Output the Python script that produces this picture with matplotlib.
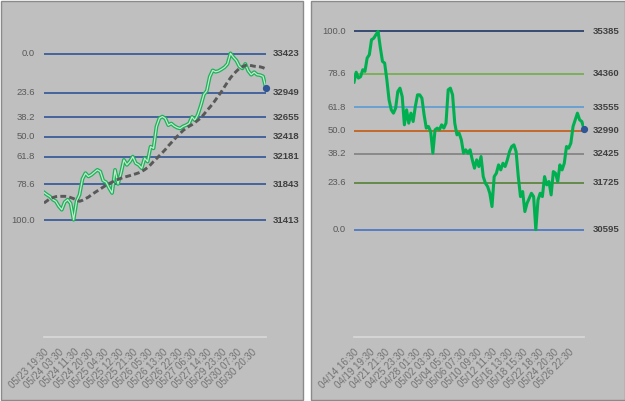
import matplotlib
matplotlib.use('Agg')
import matplotlib.pyplot as plt
from matplotlib.patches import Rectangle

plt.rcParams['font.family'] = ['Liberation Sans', 'DejaVu Sans']

W, H = 625, 401

# ---------------- data ----------------
left_levels = [0.0, 23.6, 38.2, 50.0, 61.8, 78.6, 100.0]
left_level_prices = [33423, 32949, 32655, 32418, 32181, 31843, 31413]
left_tick_labels = ['05/23 19:30', '05/24 03:30', '05/24 11:30', '05/24 20:30',
                    '05/25 04:30', '05/25 12:30', '05/25 21:30', '05/26 05:30',
                    '05/26 13:30', '05/26 22:30', '05/27 06:30', '05/27 14:30',
                    '05/29 23:30', '05/30 07:30', '05/30 20:30']
left_price = [31747, 31720, 31698, 31660, 31640, 31580, 31538, 31630, 31660, 31614,
              31417, 31640, 31720, 31910, 31980, 31940, 31960, 31990, 32020, 32000,
              31890, 31870, 31800, 31740, 32020, 31850, 31980, 32140, 32080, 32120,
              32180, 32100, 32080, 32040, 32160, 32120, 32300, 32280, 32543, 32644,
              32664, 32640, 32560, 32580, 32550, 32530, 32520, 32545, 32560, 32580,
              32660, 32620, 32690, 32800, 32930, 32975, 33145, 33222, 33205, 33215,
              33236, 33260, 33300, 33428, 33380, 33340, 33270, 33246, 33300, 33215,
              33170, 33200, 33170, 33165, 33150, 33005]
left_ma = [31619, 31645, 31670, 31685, 31696, 31700, 31700, 31700, 31698, 31685,
           31672, 31655, 31640, 31652, 31672, 31690, 31718, 31742, 31765, 31788,
           31812, 31835, 31854, 31872, 31890, 31905, 31918, 31930, 31940, 31950,
           31962, 31972, 31984, 32000, 32022, 32048, 32082, 32120, 32155, 32192,
           32228, 32266, 32310, 32348, 32388, 32425, 32460, 32496, 32522, 32546,
           32566, 32592, 32620, 32648, 32690, 32735, 32775, 32818, 32868, 32918,
           32968, 33025, 33080, 33132, 33175, 33212, 33245, 33265, 33282, 33286,
           33280, 33272, 33268, 33265, 33255, 33238]

right_levels = [100.0, 78.6, 61.8, 50.0, 38.2, 23.6, 0.0]
right_level_prices = [35385, 34360, 33555, 32990, 32425, 31725, 30595]
right_level_colors = ['#203864', '#70ad47', '#5b9bd5', '#c55a11', '#808080', '#548235', '#4472c4']
right_tick_labels = ['04/14 16:30', '04/19 19:30', '04/21 21:30', '04/25 23:30',
                     '04/28 01:30', '05/02 03:30', '05/04 05:30', '05/06 07:30',
                     '05/10 09:30', '05/12 11:30', '05/16 13:30', '05/18 15:30',
                     '05/22 18:30', '05/24 20:30', '05/26 22:30']
right_price = [34160, 34400, 34258, 34290, 34459, 34420, 34742, 34822, 35184, 35220,
               35305, 35385, 35000, 34660, 34620, 34217, 33733, 33491, 33410, 33530,
               33934, 34015, 33813, 33128, 33491, 33168, 33410, 33208, 33571, 33853,
               33853, 33773, 33370, 33048, 33088, 32967, 32443, 33008, 33048, 33008,
               33128, 33048, 33168, 33975, 34015, 33853, 33168, 32886, 32927, 32765,
               32443, 32524, 32443, 32524, 32281, 32080, 32281, 32120, 32362, 31877,
               31716, 31636, 31474, 31152, 31877, 31958, 32160, 32039, 32200, 32120,
               32281, 32483, 32604, 32644, 32483, 31877, 31394, 31515, 31031, 31232,
               31353, 31474, 31394, 30595, 31313, 31474, 31394, 31877, 31676, 31757,
               31434, 31998, 31958, 31757, 32160, 32039, 32200, 32604, 32564, 32685,
               33088, 33249, 33410, 33249, 33208, 33030]

# ---------------- figure ----------------
fig = plt.figure(figsize=(W / 100, H / 100), dpi=100, facecolor='white')


def fr(x0, y0, x1, y1):
    """pixel box (top-left origin) -> figure fraction [l, b, w, h]"""
    return [x0 / W, 1 - y1 / H, (x1 - x0) / W, (y1 - y0) / H]


for box in [(0.5, 0.5, 303, 400), (310.5, 0.5, 624.5, 400)]:
    l, b, w, h = fr(*box)
    fig.patches.append(Rectangle((l, b), w, h, transform=fig.transFigure,
                                 facecolor='#bfbfbf', edgecolor='#8a8a8a', lw=1.0, zorder=-10))

PCT_COLOR = '#595959'
PRICE_COLOR = '#404040'
FS = 6.8


def style_axes(ax, labels, k, n):
    ax.set_facecolor('none')
    ax.set_zorder(5)
    for s in ['top', 'right', 'left']:
        ax.spines[s].set_visible(False)
    ax.spines['bottom'].set_color('#d9d9d9')
    ax.spines['bottom'].set_linewidth(1.2)
    ax.set_yticks([])
    ax.set_xticks(list(range(0, n, k))[:len(labels)])
    ax.set_xticklabels(labels, rotation=45, ha='right', rotation_mode='anchor',
                       fontsize=7.0, color='#727272')
    ax.tick_params(axis='x', length=0, pad=7)


# ---------------- left panel ----------------
axL = fig.add_axes(fr(44, 6, 266, 337))
nL = len(left_price)
axL.set_xlim(0, nL - 1)
axL.set_ylim(30000, 34000)
for lev, p in zip(left_levels, left_level_prices):
    axL.axhline(p, color='#2f5597', lw=1.2, zorder=1)
    axL.annotate(f'{lev:.1f}', xy=(0, p), xycoords=('axes fraction', 'data'),
                 xytext=(-9, 0), textcoords='offset pixels', ha='right', va='center',
                 fontsize=FS, color=PCT_COLOR, annotation_clip=False)
    axL.annotate(f'{p}', xy=(1, p), xycoords=('axes fraction', 'data'),
                 xytext=(7, 0), textcoords='offset pixels', ha='left', va='center',
                 fontsize=FS, color=PRICE_COLOR, fontweight='bold', annotation_clip=False)
xs = list(range(nL))
axL.plot(xs, left_price, color='#19b45a', lw=2.7, zorder=3, solid_joinstyle='round')
axL.plot(xs, left_price, color='#c8e6cc', lw=0.9, zorder=4, solid_joinstyle='round')
axL.plot(xs, left_ma, color='#595959', lw=2.1, linestyle=(0, (2.0, 1.1)), zorder=5)
axL.plot([xs[-1]], [left_price[-1]], 'o', color='#2f5597', ms=4.2, zorder=6, clip_on=False)
style_axes(axL, left_tick_labels, 5, nL)

# ---------------- right panel ----------------
axR = fig.add_axes(fr(354, 6, 584, 337))
nR = len(right_price)
axR.set_xlim(0, nR - 1)
axR.set_ylim(28000, 36000)
for lev, p, c in zip(right_levels, right_level_prices, right_level_colors):
    axR.axhline(p, color=c, lw=1.2, zorder=1)
    axR.annotate(f'{lev:.1f}', xy=(0, p), xycoords=('axes fraction', 'data'),
                 xytext=(-8, 0), textcoords='offset pixels', ha='right', va='center',
                 fontsize=FS, color=PCT_COLOR, annotation_clip=False)
    axR.annotate(f'{p}', xy=(1, p), xycoords=('axes fraction', 'data'),
                 xytext=(9, 0), textcoords='offset pixels', ha='left', va='center',
                 fontsize=FS, color=PRICE_COLOR, fontweight='bold', annotation_clip=False)
xr = list(range(nR))
axR.plot(xr, right_price, color='#00b050', lw=2.2, zorder=3, solid_joinstyle='round')
axR.plot([xr[-1]], [right_price[-1]], 'o', color='#2f5597', ms=4.2, zorder=6, clip_on=False)
style_axes(axR, right_tick_labels, 7, nR)

fig.savefig('out.png', dpi=100, facecolor='white')
